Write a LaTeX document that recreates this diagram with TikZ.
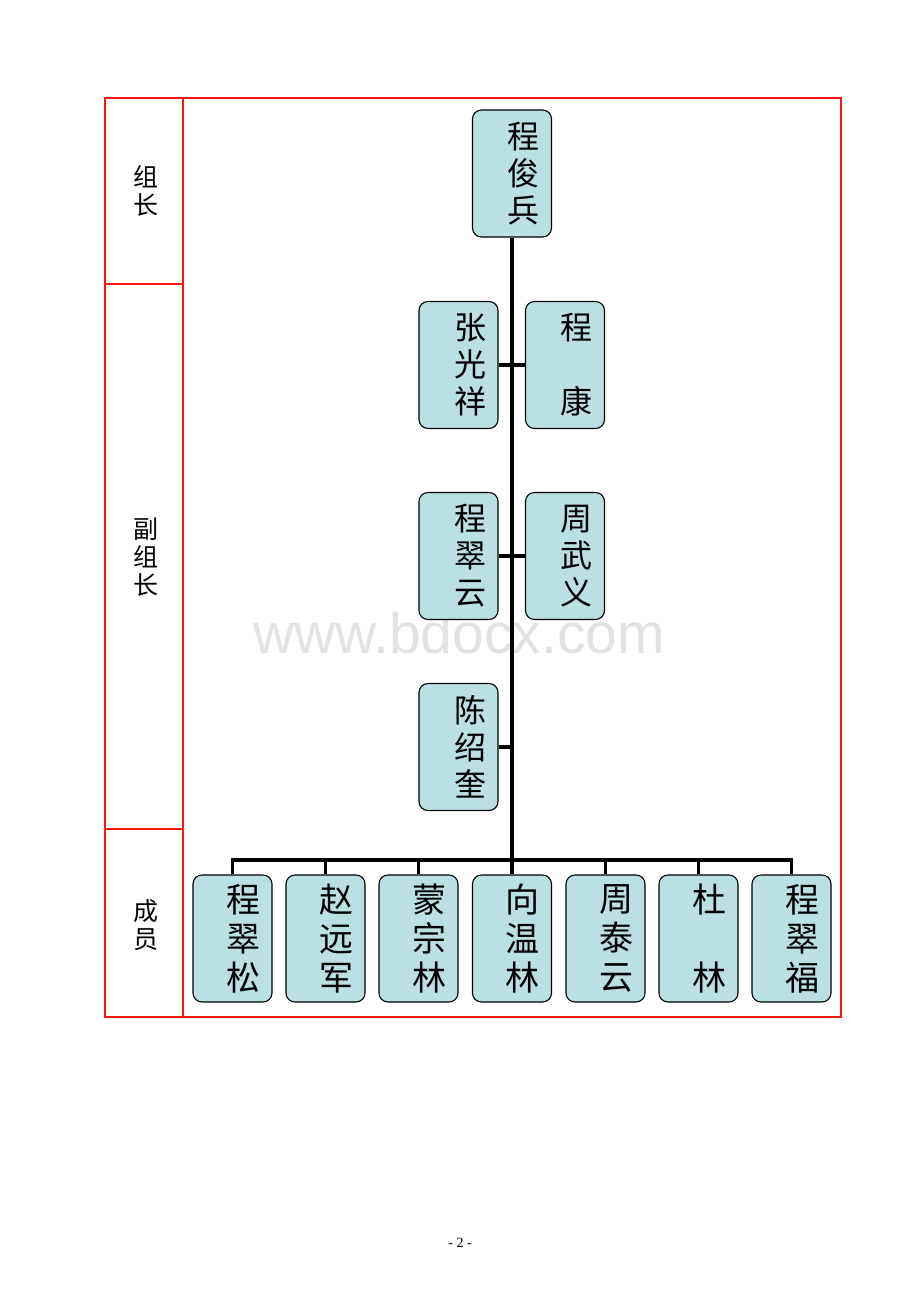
\documentclass[tikz,border=0pt]{standalone}
\usepackage{fontspec}
\setmainfont{Liberation Serif}
\newfontfamily\cjk{Noto Sans CJK SC}
\newfontfamily\wmfont{Liberation Sans}
\usepackage{tikz}
\usetikzlibrary{positioning}
\definecolor{boxfill}{HTML}{BBE0E3}
\definecolor{framered}{HTML}{FF1414}
\definecolor{wmgray}{HTML}{E2E2E2}

\begin{document}
\begin{tikzpicture}[x=1pt,y=-1pt,
    person/.style={draw=black, line width=1.1pt, fill=boxfill, rounded corners=9pt,
      minimum height=127pt, inner xsep=12pt, inner ysep=0pt, text width=55pt,
      align=right, font=\cjk\fontsize{32}{37}\selectfont},
    member/.style={person, font=\cjk\fontsize{34}{39}\selectfont},
    link/.style={line width=3.5pt},
    frame/.style={draw=framered, line width=2pt},
    rolename/.style={align=center, font=\cjk\fontsize{25}{28}\selectfont}]
  \useasboundingbox (0,0) rectangle (920,1302);

  % watermark
  \node (WM) at (459,633) {\wmfont\fontsize{57}{60}\selectfont\color{wmgray}www.bdocx.com};

  % table frame
  \draw [frame] (105,98) rectangle (841,1017);
  \draw [frame] (183,98) -- (183,1017);
  \draw [frame] (105,284) -- (183,284);
  \draw [frame] (105,829) -- (183,829);
  \node [rolename] (R1) at (146,191) {组\\长};
  \node [rolename] (R2) at (146,557) {副\\组\\长};
  \node [rolename] (R3) at (146,925) {成\\员};

  % leader and deputies
  \node [person] (TOP) at (512,173.5) {程\\俊\\兵};
  \node [person] (VL1) at (458.5,365) {张\\光\\祥};
  \node [person] (VR1) at (565,365) {程\\[37pt]康};
  \node [person] (VL2) at (458.5,556) {程\\翠\\云};
  \node [person] (VR2) at (565,556) {周\\武\\义};
  \node [person] (VL3) at (458.5,747) {陈\\绍\\奎};

  % members
  \node [member] (M1) at (232.5,938.5) {程\\翠\\松};
  \node [member] (M2) at (325.5,938.5) {赵\\远\\军};
  \node [member] (M3) at (418.5,938.5) {蒙\\宗\\林};
  \node [member] (M4) at (512,938.5) {向\\温\\林};
  \node [member] (M5) at (605.5,938.5) {周\\泰\\云};
  \node [member] (M6) at (698.5,938.5) {杜\\[39pt]林};
  \node [member] (M7) at (791.5,938.5) {程\\翠\\福};

  \coordinate (BUS) at (512,860);
  \draw [link] (TOP.south) -- (BUS);
  \draw [link] (VL1.east) -- (VR1.west);
  \draw [link] (VL2.east) -- (VR2.west);
  \draw [link] (VL3.east) -- (VL3.east -| TOP.south);
  \draw [link] (M1.north) |- (BUS) -| (M7.north);
  \foreach \m in {M2,M3,M4,M5,M6}
    \draw [link] (\m.north) -- (\m.north |- BUS);

  \node (PG) at (460,1243) {\fontsize{14}{16}\selectfont - 2 -};
\end{tikzpicture}
\end{document}
